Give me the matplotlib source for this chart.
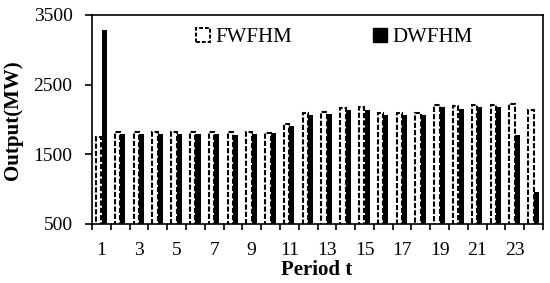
import numpy as np
import matplotlib
matplotlib.use("Agg")
import matplotlib.pyplot as plt
from matplotlib.patches import Patch

plt.rcParams['font.family'] = ['Liberation Serif', 'DejaVu Serif']

periods = list(range(1, 25))
fwfhm = [1750, 1815, 1815, 1815, 1815, 1815, 1815, 1815, 1820, 1810, 1940, 2090,
         2110, 2165, 2175, 2100, 2090, 2090, 2210, 2195, 2210, 2210, 2225, 2140]
dwfhm = [3285, 1785, 1785, 1790, 1790, 1785, 1785, 1775, 1790, 1805, 1910, 2060,
         2080, 2140, 2140, 2070, 2070, 2070, 2175, 2155, 2185, 2175, 1775, 960]
yticks = [500, 1500, 2500, 3500]

fig = plt.figure(figsize=(5.5, 2.83), dpi=100)
ax = fig.add_axes([0.1673, 0.2085, 0.82, 0.7385])

x = np.array(periods)
ax.bar(x - 0.145, fwfhm, width=0.29, facecolor='white', edgecolor='black',
       linestyle=(0, (2.5, 1)), linewidth=1.5, zorder=2)
ax.bar(x + 0.14, dwfhm, width=0.27, color='black', zorder=2)

ax.set_ylim(500, 3500)
ax.set_xlim(0.5, 24.5)
ax.set_yticks(yticks)
ax.set_yticklabels([str(v) for v in yticks])

# category axis: tick marks at group edges, labels on odd periods
ax.set_xticks(np.arange(0.5, 25, 1))
ax.set_xticklabels([])
ax.set_xticks(periods[::2], minor=True)
ax.set_xticklabels([str(p) for p in periods[::2]], minor=True)
ax.tick_params(axis='x', which='major', length=4, width=1.2, direction='out')
ax.tick_params(axis='x', which='minor', length=0, pad=13, labelsize=14)
ax.tick_params(axis='y', length=5, width=1.2, direction='out', labelsize=14, pad=9)

for s in ax.spines.values():
    s.set_linewidth(1.2)

ax.set_xlabel("Period t", fontsize=15, fontweight='bold')
ax.set_ylabel("Output(MW)", fontsize=15, fontweight='bold')
ax.xaxis.set_label_coords(0.499, -0.172)
ax.yaxis.set_label_coords(-0.153, 0.498)

h_f = Patch(facecolor='white', edgecolor='black', linestyle=(0, (2, 1)), linewidth=1.4)
h_d = Patch(facecolor='black', edgecolor='black')
leg_kw = dict(frameon=False, loc='upper left', fontsize=15, handlelength=0.65,
              handleheight=0.65, handletextpad=0.3, borderpad=0, borderaxespad=0)
leg1 = ax.legend([h_f], ["FWFHM"], bbox_to_anchor=(0.2306, 0.938), **leg_kw)
ax.add_artist(leg1)
ax.legend([h_d], ["DWFHM"], bbox_to_anchor=(0.623, 0.938), **leg_kw)

fig.savefig("out.png", dpi=100)
